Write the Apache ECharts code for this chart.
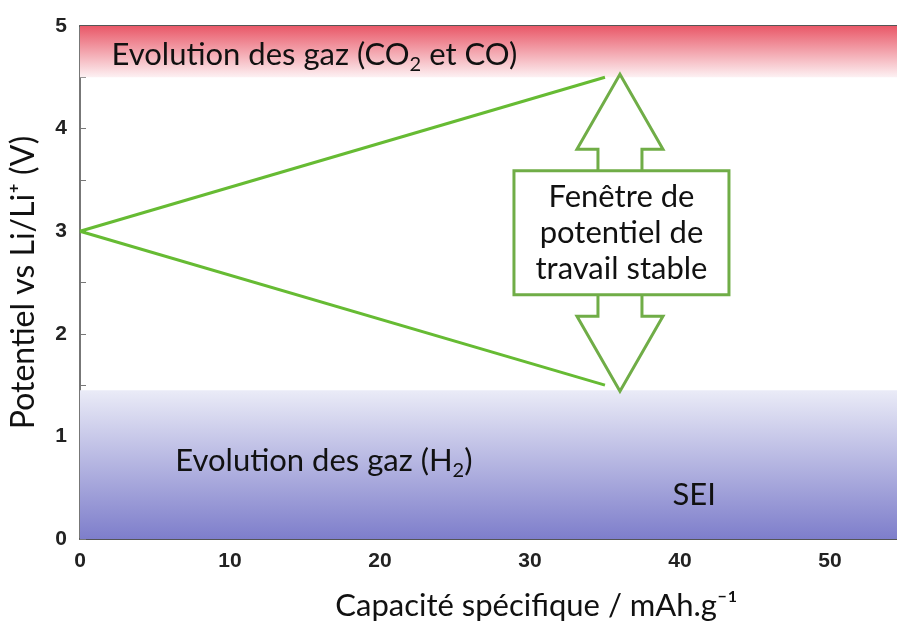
<!DOCTYPE html>
<html>
<head>
<meta charset="utf-8">
<script src="https://cdn.jsdelivr.net/npm/echarts@6/dist/echarts.min.js"></script>
<style>
  html, body { margin: 0; padding: 0; background: #fff; }
  #main { width: 897px; height: 626px; }
</style>
</head>
<body>
<div id="main"></div>
<script>
// capacité spécifique (mAh/g) et potentiel (V)
const capacite = [0, 35];
const chargeV = [3, 4.5];
const dechargeV = [3, 1.5];
// zones d'évolution des gaz (V)
const zoneHaute = [4.5, 5];
const zoneBasse = [0, 1.45];
// flèche double : abscisse et potentiels des pointes
const flecheX = 36;
const flecheV = [1.44, 4.53];
const xMax = 54.47;

const FONT = 'Lato';
const vert = '#66bb33';
const vertFleche = '#70ad47';

let myChart = echarts.init(document.getElementById('main'));

let axisLabel = { color: '#222', fontFamily: 'Liberation Sans', fontWeight: 'bold', fontSize: 21 };

let option = {
  animation: false,
  grid: { left: 80, right: 0, top: 26, bottom: 85 },
  xAxis: [
    {
      type: 'value', min: 0, max: xMax, interval: 10,
      axisLine: { show: true, lineStyle: { color: '#555', width: 2 } },
      axisTick: { show: false },
      splitLine: { show: false },
      axisLabel: Object.assign({ margin: 12, showMaxLabel: false }, axisLabel),
      name: 'Capacité spécifique / mAh.g⁻¹',
      nameLocation: 'middle',
      nameGap: 51,
      nameTextStyle: { fontFamily: FONT, fontSize: 31, color: '#111', padding: [0, 0, 0, 96] }
    },
    {
      type: 'value', min: 0, max: xMax, position: 'top',
      axisLine: { show: true, lineStyle: { color: '#555', width: 2 } },
      axisTick: { show: false }, axisLabel: { show: false }, splitLine: { show: false }
    }
  ],
  yAxis: {
    type: 'value', min: 0, max: 5, interval: 1,
    axisLine: { show: true, lineStyle: { color: '#777', width: 2 } },
    axisTick: { show: true, inside: true, length: 6, lineStyle: { color: '#777' } },
    minorTick: { show: true, splitNumber: 2, length: 6, lineStyle: { color: '#777' } },
    splitLine: { show: false },
    axisLabel: Object.assign({ margin: 13 }, axisLabel),
    name: 'Potentiel vs Li/Li⁺ (V)',
    nameLocation: 'middle',
    nameGap: 40,
    nameTextStyle: { fontFamily: FONT, fontSize: 32, color: '#111' }
  },
  series: [
    {
      name: 'charge', type: 'line', symbol: 'none',
      lineStyle: { color: vert, width: 3 },
      data: capacite.map((c, i) => [c, chargeV[i]]),
      markArea: {
        silent: true,
        data: [
          [
            { xAxis: 0, yAxis: zoneHaute[1], itemStyle: { color: new echarts.graphic.LinearGradient(0, 0, 0, 1, [
              { offset: 0, color: '#e95868' }, { offset: 1, color: '#fdf1f3' }]) } },
            { xAxis: xMax, yAxis: zoneHaute[0] }
          ],
          [
            { xAxis: 0, yAxis: zoneBasse[1], itemStyle: { color: new echarts.graphic.LinearGradient(0, 0, 0, 1, [
              { offset: 0, color: '#eaebf7' }, { offset: 1, color: '#7e7ecb' }]) } },
            { xAxis: xMax, yAxis: zoneBasse[0] }
          ]
        ]
      }
    },
    {
      name: 'décharge', type: 'line', symbol: 'none',
      lineStyle: { color: vert, width: 3 },
      data: capacite.map((c, i) => [c, dechargeV[i]])
    }
  ]
};
myChart.setOption(option);

// annotations placées à partir des coordonnées des axes
function px(x, y) { return myChart.convertToPixel({ xAxisIndex: 0, yAxisIndex: 0 }, [x, y]); }

let pTop = px(flecheX, flecheV[1]);
let pBot = px(flecheX, flecheV[0]);
let cx = pTop[0];
let cy = (pTop[1] + pBot[1]) / 2;
let headLen = 75, headW = 43, shaftW = 22, boxW = 215, boxH = 124;
let boxTop = cy - boxH / 2, boxBot = cy + boxH / 2;

let rich = {
  t: { fontFamily: FONT, fontSize: 31, fill: '#111', lineHeight: 40 },
  s: { fontFamily: FONT, fontSize: 20, fill: '#111', verticalAlign: 'bottom' }
};
let texte = (t, x, y, extra) => ({
  type: 'text', x: x, y: y, z: 20,
  style: Object.assign({ text: t, fontFamily: FONT, fontSize: 31, fill: '#111', textVerticalAlign: 'middle', rich: rich }, extra || {})
});

let p1 = px(2.1, 4.72), p2 = px(6.35, 0.76), p3 = px(39.5, 0.43);

myChart.setOption({
  graphic: [
    {
      type: 'polygon', z: 10,
      shape: { points: [
        [cx - shaftW, boxTop + 2], [cx - shaftW, pTop[1] + headLen], [cx - headW, pTop[1] + headLen],
        [cx, pTop[1]], [cx + headW, pTop[1] + headLen], [cx + shaftW, pTop[1] + headLen], [cx + shaftW, boxTop + 2]
      ] },
      style: { fill: '#fff', stroke: vertFleche, lineWidth: 3 }
    },
    {
      type: 'polygon', z: 10,
      shape: { points: [
        [cx - shaftW, boxBot - 2], [cx - shaftW, pBot[1] - headLen], [cx - headW, pBot[1] - headLen],
        [cx, pBot[1]], [cx + headW, pBot[1] - headLen], [cx + shaftW, pBot[1] - headLen], [cx + shaftW, boxBot - 2]
      ] },
      style: { fill: '#fff', stroke: vertFleche, lineWidth: 3 }
    },
    {
      type: 'rect', z: 11,
      shape: { x: cx - boxW / 2 + 1.5, y: boxTop, width: boxW, height: boxH },
      style: { fill: '#fff', stroke: vertFleche, lineWidth: 3 }
    },
    texte('Fenêtre de\npotentiel de\ntravail stable', cx + 1.5, cy, { textAlign: 'center', lineHeight: 36, rich: null }),
    texte('{t|Evolution des gaz (CO}{s|2}{t| et CO)}', p1[0], p1[1]),
    texte('{t|Evolution des gaz (H}{s|2}{t|)}', p2[0], p2[1]),
    texte('SEI', p3[0], p3[1], { rich: null })
  ]
});
</script>
</body>
</html>
